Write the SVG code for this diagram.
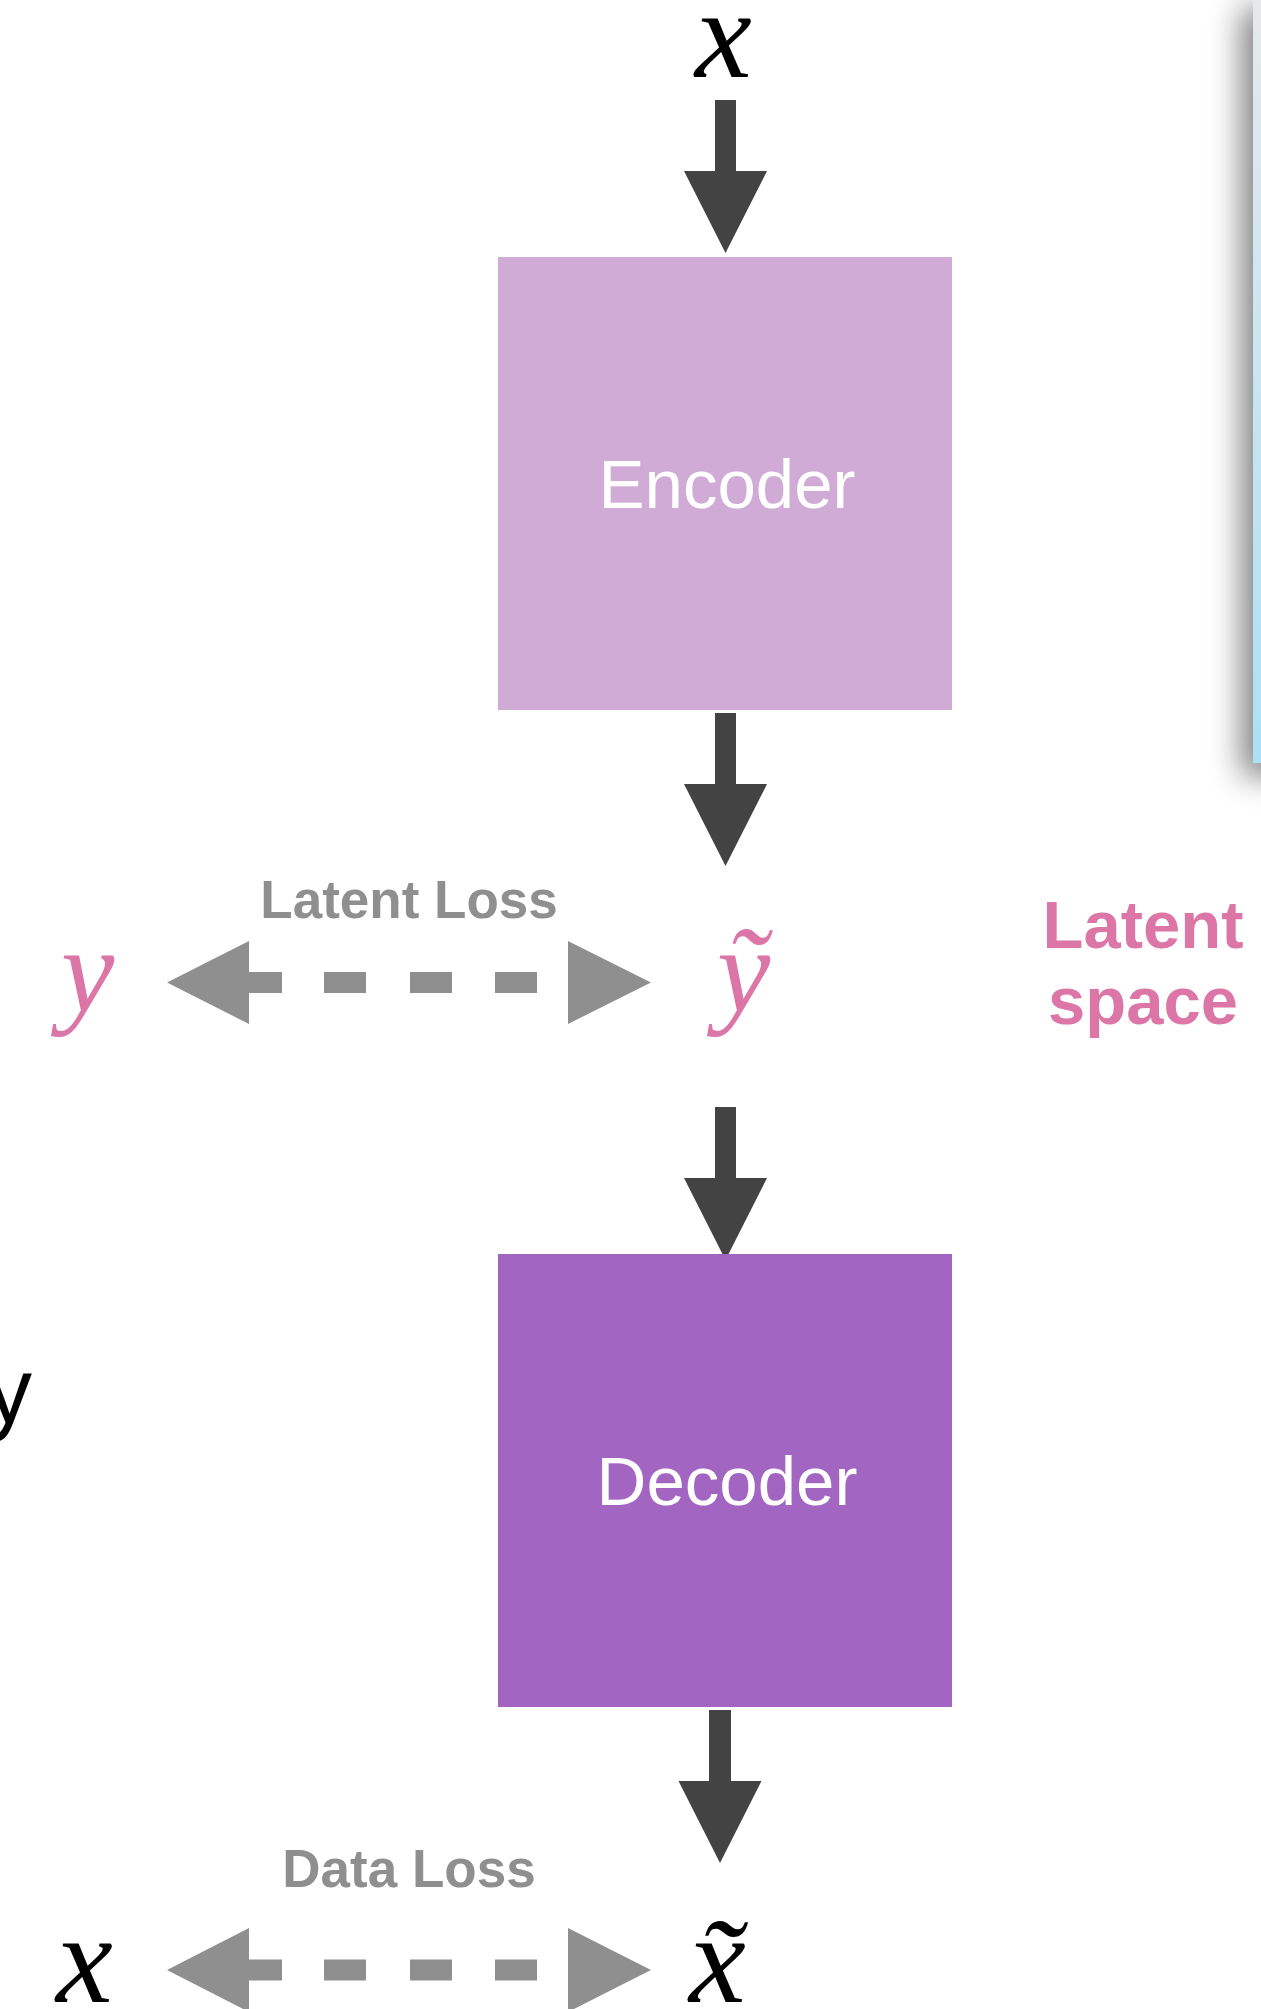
<svg xmlns="http://www.w3.org/2000/svg" width="1261" height="2009" viewBox="0 0 1261 2009">
<style>
.math{font-family:"Liberation Serif","Times New Roman",serif;font-style:italic;font-size:128px}
.mathy{font-family:"Liberation Serif","Times New Roman",serif;font-style:italic;font-size:120px}
.box{font-family:"Liberation Sans",Arial,sans-serif;font-size:69px;fill:#ffffff;text-anchor:middle}
.loss{font-family:"Liberation Sans",Arial,sans-serif;font-weight:bold;font-size:53px;fill:#8f8f8f;text-anchor:middle}
.pink{fill:#dc76a7}
.flow{fill:#434343}
.lossarrow{fill:#8f8f8f}
.dash{stroke:#8f8f8f;stroke-width:21;fill:none}
</style>
<defs>
<linearGradient id="panelGrad" x1="0" y1="0" x2="0" y2="1">
<stop offset="0" stop-color="#e6e9eb"/>
<stop offset="1" stop-color="#ace0f5"/>
</linearGradient>
<filter id="blur" x="-2" y="-0.2" width="5" height="1.4">
<feGaussianBlur stdDeviation="16"/>
</filter>
</defs>
<rect width="1261" height="2009" fill="#ffffff"/>

<g id="panel">
<rect x="1242" y="8" width="60" height="768" fill="#000" opacity="0.5" filter="url(#blur)"/>
<rect x="1253" y="0" width="10" height="763" fill="url(#panelGrad)"/>
</g>

<g id="connectors">
<path class="flow" d="M715,100 H736 V171 H767 L725.5,253 L684,171 H715 Z"/>
<path class="flow" d="M715,713 H736 V784 H767 L725.5,866 L684,784 H715 Z"/>
<path class="flow" d="M715,1107 H736 V1178 H767 L725.5,1260 L684,1178 H715 Z"/>
<path class="flow" d="M709,1710 H731 V1781 H761.5 L720,1863 L678.5,1781 H709 Z"/>
<g id="latent-loss-arrow">
<path class="dash" d="M240,982.5 H282 M324,982.5 H366 M410,982.5 H452 M495,982.5 H537"/>
<polygon class="lossarrow" points="167,982.5 249,941 249,1024"/>
<polygon class="lossarrow" points="651,982.5 568,941 568,1024"/>
</g>
<g id="data-loss-arrow">
<path class="dash" d="M240,1970 H282 M324,1970 H366 M410,1970 H452 M495,1970 H537"/>
<polygon class="lossarrow" points="167,1970 249,1928 249,2012"/>
<polygon class="lossarrow" points="651,1970 568,1928 568,2012"/>
</g>
</g>

<g id="input-x"><text class="math" x="695" y="77">x</text></g>

<g id="encoder">
<rect x="498" y="257" width="454" height="453" fill="#cfabd6"/>
<text class="box" x="727" y="508">Encoder</text>
</g>

<g id="latent-y-tilde"><text class="mathy pink" x="717" y="1011">ỹ</text></g>
<g id="latent-y"><text class="mathy pink" x="61" y="1011">y</text></g>
<g id="latent-loss-label"><text class="loss" x="409" y="918">Latent Loss</text></g>

<g id="latent-space-label">
<text font-family="'Liberation Sans',Arial,sans-serif" font-weight="bold" font-size="67" class="pink" text-anchor="middle"><tspan x="1143" y="948">Latent</tspan><tspan x="1143" y="1024">space</tspan></text>
</g>

<g id="left-y"><text font-family="'Liberation Sans',Arial,sans-serif" font-size="92" fill="#000" x="-14" y="1423">y</text></g>

<g id="decoder">
<rect x="498" y="1254" width="454" height="453" fill="#a265c2"/>
<text class="box" x="727" y="1505">Decoder</text>
</g>

<g id="output-x-tilde"><text class="math" x="689" y="2002">x̃</text></g>
<g id="target-x"><text class="math" x="56" y="2002">x</text></g>
<g id="data-loss-label"><text class="loss" x="409" y="1887">Data Loss</text></g>
</svg>
